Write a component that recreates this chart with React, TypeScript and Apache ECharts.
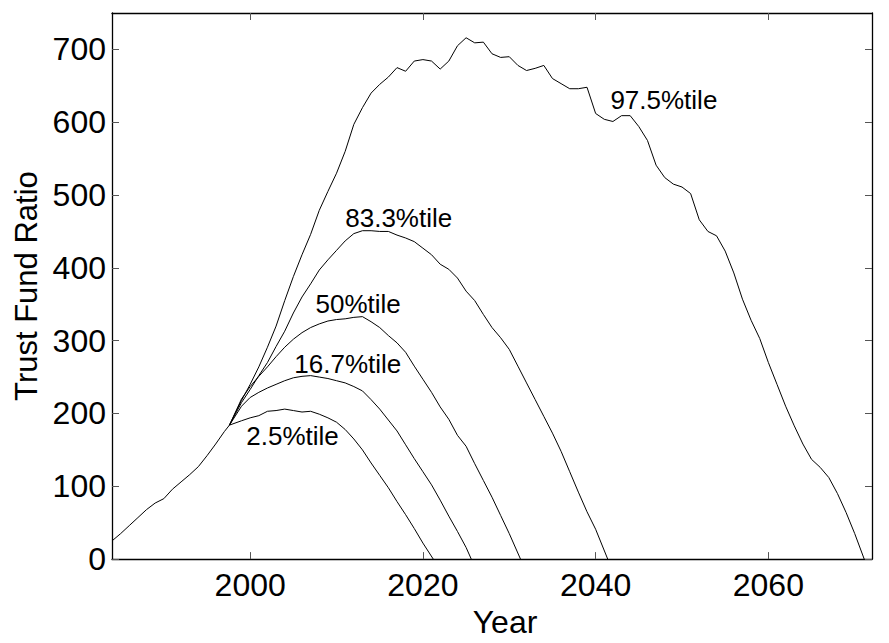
import React, { useEffect, useRef } from "react";
import * as echarts from "echarts";

const xTicks = [2000, 2020, 2040, 2060];
const yTicks = [0, 100, 200, 300, 400, 500, 600, 700];

const history: [number, number][] = [
  [1984, 25], [1985, 35], [1986, 46], [1987, 57], [1988, 68], [1989, 77], [1990, 83],
  [1991, 96], [1992, 106], [1993, 116], [1994, 127], [1995, 142], [1996, 158], [1997, 175], [1997.6, 184],
];

const p025: [number, number][] = [
  [1997.6, 184], [1999, 190], [2000, 194], [2001, 197], [2002, 203], [2003, 204], [2004, 206],
  [2005, 204], [2006, 202], [2007, 203], [2008, 199], [2009, 194], [2010, 188], [2011, 178],
  [2012, 165], [2013, 150], [2014, 132], [2015, 115], [2016, 98], [2017, 79], [2018, 61],
  [2019, 42], [2020, 22], [2021.2, 0],
];

const p167: [number, number][] = [
  [1997.6, 184], [1999, 210], [2000, 222], [2001, 229], [2002, 235], [2003, 240], [2004, 245],
  [2005, 249], [2006, 251], [2007, 252], [2008, 250], [2009, 248], [2010, 245], [2011, 242],
  [2012, 237], [2013, 231], [2014, 219], [2015, 206], [2016, 191], [2017, 176], [2018, 157],
  [2019, 138], [2020, 120], [2021, 102], [2022, 81], [2023, 59], [2024, 38], [2025, 16], [2025.6, 0],
];

const p50: [number, number][] = [
  [1997.6, 184], [1999, 220], [2000, 237], [2001, 251], [2002, 264], [2003, 278], [2004, 291],
  [2005, 302], [2006, 311], [2007, 318], [2008, 323], [2009, 327], [2010, 329], [2011, 330],
  [2012, 332], [2013, 333], [2014, 326], [2015, 318], [2016, 307], [2017, 297], [2018, 284],
  [2019, 265], [2020, 247], [2021, 229], [2022, 209], [2023, 192], [2024, 170], [2025, 155],
  [2026, 131], [2027, 108], [2028, 85], [2029, 60], [2030, 35], [2031.3, 0],
];

const p833: [number, number][] = [
  [1997.6, 184], [1999, 215], [2000, 233], [2001, 252], [2002, 270], [2003, 292], [2004, 313],
  [2005, 338], [2006, 360], [2007, 378], [2008, 397], [2009, 411], [2010, 424], [2011, 437],
  [2012, 447], [2013, 451], [2014, 451], [2015, 450], [2016, 450], [2017, 445], [2018, 441],
  [2019, 436], [2020, 427], [2021, 418], [2022, 405], [2023, 398], [2024, 386], [2025, 368],
  [2026, 355], [2027, 336], [2028, 318], [2029, 304], [2030, 288], [2031, 265], [2032, 242],
  [2033, 219], [2034, 196], [2035, 173], [2036, 148], [2037, 120], [2038, 92], [2039, 65],
  [2040, 41], [2041.4, 0],
];

const p975: [number, number][] = [
  [1997.6, 184], [1999, 218], [2000, 240], [2001, 264], [2002, 291], [2003, 320], [2004, 355],
  [2005, 388], [2006, 418], [2007, 446], [2008, 479], [2009, 505], [2010, 530], [2011, 560],
  [2012, 597], [2013, 620], [2014, 640], [2015, 652], [2016, 662], [2017, 675], [2018, 670],
  [2019, 684], [2020, 686], [2021, 684], [2022, 673], [2023, 684], [2024, 705], [2025, 716],
  [2026, 709], [2027, 710], [2028, 694], [2029, 689], [2030, 690], [2031, 678], [2032, 671],
  [2033, 674], [2034, 678], [2035, 660], [2036, 653], [2037, 646], [2038, 646], [2039, 648],
  [2040, 612], [2041, 604], [2042, 601], [2043, 609], [2044, 609], [2045, 594], [2046, 575],
  [2047, 541], [2048, 524], [2049, 515], [2050, 511], [2051, 502], [2052, 466], [2053, 450],
  [2054, 444], [2055, 423], [2056, 393], [2057, 357], [2058, 328], [2059, 303], [2060, 270],
  [2061, 240], [2062, 210], [2063, 183], [2064, 158], [2065, 137], [2066, 126], [2067, 112],
  [2068, 90], [2069, 64], [2070, 35], [2071.1, 0],
];

const labelNames = ["97.5%tile", "83.3%tile", "50%tile", "16.7%tile", "2.5%tile"];
const labelAnchors: [number, number][] = [
  [2047.9, 631], [2017.2, 469], [2012.5, 351], [2011.3, 268], [2004.9, 169],
];

const FONT = "Liberation Sans, Arial, Helvetica, sans-serif";

export default function App() {
  const ref = useRef<HTMLDivElement>(null);
  useEffect(() => {
    if (!ref.current) return;
    const chart = echarts.init(ref.current, undefined, { renderer: "svg" });
    const lineSeries = (name: string, data: [number, number][]) => ({
      name,
      type: "line",
      data,
      showSymbol: false,
      symbol: "none",
      lineStyle: { color: "#000", width: 1 },
      z: 3,
    });
    const tickStyle = { show: true, inside: true, length: 7, lineStyle: { color: "#555", width: 1 } };
    chart.setOption({
      animation: false,
      backgroundColor: "#fff",
      grid: { left: 112, right: 17, top: 13, bottom: 67, containLabel: false },
      xAxis: [
        {
          type: "value",
          min: 1984,
          max: 2072,
          position: "bottom",
          splitLine: { show: false },
          axisLine: { show: true, onZero: false, lineStyle: { color: "#000", width: 1.3 } },
          axisTick: { ...tickStyle, customValues: xTicks },
          axisLabel: {
            customValues: xTicks,
            formatter: (v: number) => String(v),
            color: "#000",
            fontFamily: FONT,
            fontSize: 32,
            margin: 10,
          },
          name: "Year",
          nameLocation: "middle",
          nameGap: 40,
          nameTextStyle: { color: "#000", fontFamily: FONT, fontSize: 32, padding: [0, 0, 0, 26] },
        },
        {
          type: "value",
          min: 1984,
          max: 2072,
          position: "top",
          splitLine: { show: false },
          axisLine: { show: true, onZero: false, lineStyle: { color: "#000", width: 1.3 } },
          axisTick: { ...tickStyle, customValues: xTicks },
          axisLabel: { show: false },
        },
      ],
      yAxis: [
        {
          type: "value",
          min: 0,
          max: 750,
          position: "left",
          splitLine: { show: false },
          axisLine: { show: true, onZero: false, lineStyle: { color: "#000", width: 1.3 } },
          axisTick: { ...tickStyle, customValues: yTicks },
          axisLabel: {
            customValues: yTicks,
            color: "#000",
            fontFamily: FONT,
            fontSize: 32,
            margin: 6,
          },
          name: "Trust Fund Ratio",
          nameLocation: "middle",
          nameGap: 68,
          nameTextStyle: { color: "#000", fontFamily: FONT, fontSize: 31 },
        },
        {
          type: "value",
          min: 0,
          max: 750,
          position: "right",
          splitLine: { show: false },
          axisLine: { show: true, onZero: false, lineStyle: { color: "#000", width: 1.3 } },
          axisTick: { ...tickStyle, customValues: yTicks },
          axisLabel: { show: false },
        },
      ],
      series: [
        lineSeries("history", history),
        lineSeries("2.5%tile", p025),
        lineSeries("16.7%tile", p167),
        lineSeries("50%tile", p50),
        lineSeries("83.3%tile", p833),
        lineSeries("97.5%tile", p975),
        {
          name: "labels",
          type: "scatter",
          symbolSize: 0,
          itemStyle: { opacity: 1 },
          data: labelAnchors.map((c, i) => ({ value: c, name: labelNames[i] })),
          label: {
            show: true,
            position: "inside",
            formatter: (p: any) => p.name,
            color: "#000",
            opacity: 1,
            textBorderWidth: 0,
            fontFamily: FONT,
            fontSize: 26,
          },
          emphasis: { disabled: true },
          z: 4,
        },
      ],
    });
    return () => chart.dispose();
  }, []);
  return (
    <div
      ref={ref}
      style={{ position: "absolute", left: 0, top: 0, width: 889, height: 643, background: "#fff" }}
    />
  );
}
